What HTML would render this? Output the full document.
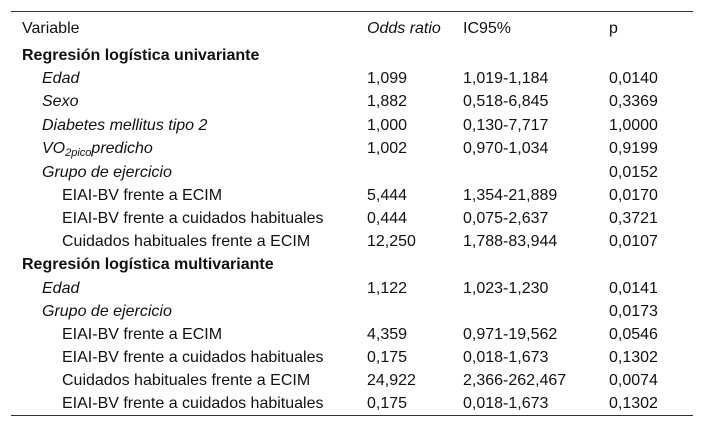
<!DOCTYPE html><html><head><style>
body{margin:0;width:704px;height:428px;background:#fff;font-family:"Liberation Sans",sans-serif;font-size:16px;color:#111;position:relative;overflow:hidden}
.t{position:absolute;left:11px;width:682px;border-top:1px solid #333}
.r{position:absolute;left:0;width:704px;height:20px;line-height:20px;margin-top:2px}
.r span{position:absolute;white-space:nowrap}
.a{left:22px}.b{left:42px;font-style:italic}.c{left:62px}
.o{left:367px}.i{left:463px}.p{left:609px}
.h{font-weight:bold}
sub{font-size:11px;vertical-align:-3px;line-height:0}
</style></head><body>
<div class="t" style="top:11px"></div>
<div class="t" style="top:415px"></div>
<div class="r" style="top:17px"><span class="a">Variable</span><span class="o" style="font-style:italic">Odds ratio</span><span class="i">IC95%</span><span class="p">p</span></div>
<div class="r" style="top:44px"><span class="a h">Regresión logística univariante</span></div>
<div class="r" style="top:67px"><span class="b">Edad</span><span class="o">1,099</span><span class="i">1,019-1,184</span><span class="p">0,0140</span></div>
<div class="r" style="top:90px"><span class="b">Sexo</span><span class="o">1,882</span><span class="i">0,518-6,845</span><span class="p">0,3369</span></div>
<div class="r" style="top:114px"><span class="b">Diabetes mellitus tipo 2</span><span class="o">1,000</span><span class="i">0,130-7,717</span><span class="p">1,0000</span></div>
<div class="r" style="top:137px"><span class="b">VO<sub>2pico</sub>predicho</span><span class="o">1,002</span><span class="i">0,970-1,034</span><span class="p">0,9199</span></div>
<div class="r" style="top:161px"><span class="b">Grupo de ejercicio</span><span class="p">0,0152</span></div>
<div class="r" style="top:184px"><span class="c">EIAI-BV frente a ECIM</span><span class="o">5,444</span><span class="i">1,354-21,889</span><span class="p">0,0170</span></div>
<div class="r" style="top:207px"><span class="c">EIAI-BV frente a cuidados habituales</span><span class="o">0,444</span><span class="i">0,075-2,637</span><span class="p">0,3721</span></div>
<div class="r" style="top:230px"><span class="c">Cuidados habituales frente a ECIM</span><span class="o">12,250</span><span class="i">1,788-83,944</span><span class="p">0,0107</span></div>
<div class="r" style="top:253px"><span class="a h">Regresión logística multivariante</span></div>
<div class="r" style="top:277px"><span class="b">Edad</span><span class="o">1,122</span><span class="i">1,023-1,230</span><span class="p">0,0141</span></div>
<div class="r" style="top:300px"><span class="b">Grupo de ejercicio</span><span class="p">0,0173</span></div>
<div class="r" style="top:323px"><span class="c">EIAI-BV frente a ECIM</span><span class="o">4,359</span><span class="i">0,971-19,562</span><span class="p">0,0546</span></div>
<div class="r" style="top:346px"><span class="c">EIAI-BV frente a cuidados habituales</span><span class="o">0,175</span><span class="i">0,018-1,673</span><span class="p">0,1302</span></div>
<div class="r" style="top:369px"><span class="c">Cuidados habituales frente a ECIM</span><span class="o">24,922</span><span class="i">2,366-262,467</span><span class="p">0,0074</span></div>
<div class="r" style="top:392px"><span class="c">EIAI-BV frente a cuidados habituales</span><span class="o">0,175</span><span class="i">0,018-1,673</span><span class="p">0,1302</span></div>
</body></html>
